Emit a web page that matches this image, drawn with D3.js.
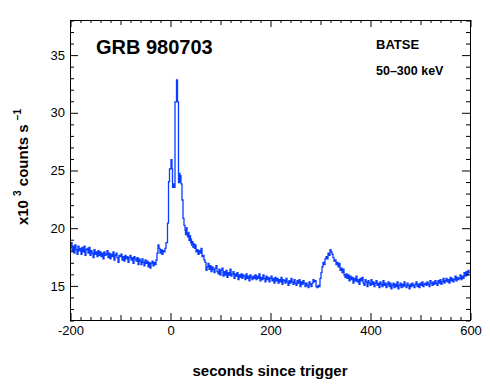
<!DOCTYPE html>
<html>
<head>
<meta charset="utf-8">
<script src="https://cdn.jsdelivr.net/npm/d3@7"></script>
<style>
  html, body { margin: 0; padding: 0; background: #fff; }
  svg { display: block; }
  text { font-family: "Liberation Sans", Arial, Helvetica, sans-serif; fill: #000; }
</style>
</head>
<body>
<svg id="chart" width="490" height="390"></svg>
<script>
// ---- data (x10^3 counts/s, BATSE 50-300 keV, GRB 980703) ----
const binWidth = 2;               // seconds, background segments
const preStart = -200;            // first pre-burst bin start
const preRates = [
  18.3, 18.7, 18.0, 18.4, 17.8, 18.5, 18.1, 17.7, 18.4, 18.0,
  18.2, 17.7, 18.3, 17.9, 18.4, 17.6, 18.1, 18.2, 17.8, 18.3,
  17.6, 18.0, 17.8, 17.4, 18.1, 17.7, 17.9, 17.5, 18.0, 17.6,
  17.9, 17.5, 17.8, 17.3, 17.9, 17.6, 17.7, 18.0, 17.4, 17.8,
  17.3, 17.7, 17.5, 17.9, 17.2, 17.6, 17.8, 17.4, 17.0, 17.6,
  17.5, 17.7, 17.2, 17.5, 17.1, 17.6, 17.3, 17.5, 17.0, 17.4,
  17.6, 17.2, 17.4, 16.9, 17.5, 17.3, 17.1, 17.4, 16.8, 17.3,
  17.1, 16.8, 17.3, 17.0, 16.7, 17.2, 16.9, 17.1, 16.6, 17.0,
  16.5, 16.9, 17.1, 16.7, 17.0, 16.8, 17.2, 17.8, 18.5, 18.2,
  17.8, 18.1, 17.7, 18.0, 17.9, 18.2
];
const burstTimes = [-8, -5, -3, -1, 2, 4, 5, 7, 8, 10, 13, 15, 17, 19, 20, 21, 22, 24, 26, 28,
                    30, 31, 33, 34, 35, 37, 38, 39, 41, 42, 43, 45, 46, 47, 49, 50];
const burstRates = [18.7, 20.4, 24.0, 25.1, 25.9, 25.1, 23.5, 23.8, 23.5, 30.9, 32.8, 30.9, 23.9, 24.7, 24.0, 24.5, 23.8, 22.4, 20.8, 20.2,
                    19.8, 19.4, 20.0, 19.5, 19.2, 19.6, 18.9, 19.3, 18.7, 19.0, 18.5, 18.8, 18.3, 18.6, 18.2, 18.5];
const postStart = 52;
const postRates = [
  17.9, 18.1, 17.7, 18.0, 17.8, 18.2, 17.5, 17.6, 17.2, 17.0,
  16.3, 16.6, 16.9, 16.4, 16.7, 16.2, 16.6, 16.4, 16.1, 16.5,
  16.7, 16.2, 16.0, 16.4, 15.9, 16.3, 16.5, 15.8, 16.2, 15.9,
  16.3, 15.7, 16.1, 15.9, 16.4, 15.8, 16.0, 16.2, 15.6, 16.0,
  15.8, 16.1, 15.5, 15.9, 15.7, 16.0, 15.6, 15.9, 15.8, 15.5,
  16.0, 15.6, 15.8, 15.4, 15.9, 15.7, 15.5, 15.8, 15.6, 15.9,
  15.5, 15.8, 15.6, 16.0, 15.4, 15.7, 15.5, 15.9, 15.6, 15.3,
  15.8, 15.5, 15.7, 15.3, 15.6, 15.8, 15.4, 15.6, 15.2, 15.7,
  15.4, 15.6, 15.2, 15.5, 15.3, 15.7, 15.1, 15.5, 15.4, 15.2,
  15.6, 15.3, 15.0, 15.4, 15.2, 15.6, 15.3, 15.1, 15.5, 15.2,
  15.0, 15.4, 15.2, 15.5, 14.9, 15.3, 15.1, 15.4, 15.2, 14.9,
  15.2, 15.0, 14.8, 15.3, 15.1, 14.9, 15.2, 15.5, 15.3, 15.4,
  14.9, 14.8, 15.0, 14.9, 15.6, 16.1, 16.6, 17.0, 16.8, 17.3,
  17.5, 17.3, 17.8, 17.6, 18.1, 17.9, 17.7, 17.4, 17.1, 17.2,
  16.8, 17.0, 16.6, 16.9, 16.3, 16.5, 16.1, 16.4, 15.9, 15.7,
  16.0, 15.6, 15.9, 15.4, 15.8, 15.5, 15.7, 15.2, 15.6, 15.4,
  15.8, 15.3, 15.5, 15.1, 15.6, 15.4, 15.7, 15.2, 15.0, 15.5,
  15.3, 14.9, 15.4, 15.2, 15.0, 15.5, 15.1, 15.3, 14.9, 15.2,
  15.4, 15.0, 15.2, 14.8, 15.3, 15.1, 14.9, 15.4, 15.0, 15.2,
  14.8, 15.1, 15.3, 14.9, 15.2, 14.7, 15.0, 15.2, 14.8, 15.1,
  14.9, 15.3, 14.7, 15.0, 15.2, 14.8, 15.1, 14.9, 15.3, 15.0,
  14.8, 15.2, 15.0, 14.7, 15.1, 14.9, 15.2, 15.0, 14.8, 15.1,
  15.3, 14.9, 15.1, 14.8, 15.2, 15.0, 15.3, 14.9, 15.1, 15.2,
  15.0, 15.3, 15.1, 14.9, 15.4, 15.2, 15.0, 15.3, 15.1, 15.4,
  15.2, 15.0, 15.4, 15.2, 15.5, 15.1, 15.3, 15.6, 15.2, 15.4,
  15.6, 15.3, 15.5, 15.2, 15.7, 15.4, 15.6, 15.3, 15.5, 15.8,
  15.4, 15.7, 15.5, 15.6, 15.9, 15.5, 15.8, 15.6, 16.1, 15.8,
  16.2, 15.9, 16.3, 16.1
];
const xDomain = [-200, 600];
const yDomain = [12, 38];
const xTickLabels = [-200, 0, 200, 400, 600];
const yTickLabels = [15, 20, 25, 30, 35];

// ---- assemble step series ----
const series = [];
preRates.forEach((v, i) => series.push({ t: preStart + i * binWidth, v }));
burstTimes.forEach((t, i) => series.push({ t, v: burstRates[i] }));
postRates.forEach((v, i) => series.push({ t: postStart + i * binWidth, v }));
series.push({ t: xDomain[1], v: postRates[postRates.length - 1] });

// ---- layout ----
const L = 70, R = 470, T = 20, B = 320;
const svg = d3.select("#chart");
const x = d3.scaleLinear().domain(xDomain).range([L, R]);
const y = d3.scaleLinear().domain(yDomain).range([B, T]);

svg.append("defs").append("clipPath").attr("id", "clip")
  .append("rect").attr("x", L).attr("y", T).attr("width", R - L).attr("height", B - T);

// curve
const line = d3.line().x(d => x(d.t)).y(d => y(d.v)).curve(d3.curveStepAfter);
svg.append("path").datum(series)
  .attr("clip-path", "url(#clip)")
  .attr("fill", "none")
  .attr("stroke", "#0a3cff")
  .attr("stroke-width", 1.3)
  .attr("stroke-linejoin", "miter")
  .attr("d", line);

// ---- ticks ----
const xMinor = d3.range(-200, 601, 20).filter(d => d % 100 !== 0);
const xMid = d3.range(-100, 601, 200);
const yMinor = d3.range(12, 39, 1).filter(d => d % 5 !== 0);

function tickAxis(axisFn, scale, values, size, tx, ty) {
  const g = svg.append("g").attr("transform", `translate(${tx},${ty})`)
    .call(axisFn(scale).tickValues(values).tickSizeInner(size).tickSizeOuter(0).tickFormat(""));
  g.select(".domain").remove();
  g.selectAll("line").attr("stroke", "#000").attr("stroke-width", 1);
  return g;
}
// bottom (inward = upward)
tickAxis(d3.axisBottom, x, xMinor, -3, 0.5, B);
tickAxis(d3.axisBottom, x, xMid, -5, 0.5, B);
// top (inward = downward)
tickAxis(d3.axisTop, x, xMinor, -3, 0.5, T);
tickAxis(d3.axisTop, x, xMid, -5, 0.5, T);
tickAxis(d3.axisTop, x, xTickLabels, -7, 0.5, T);
// left/right minor
tickAxis(d3.axisLeft, y, yMinor, -4, L, 0.5);
tickAxis(d3.axisRight, y, yMinor, -4, R, 0.5);
tickAxis(d3.axisRight, y, yTickLabels, -8, R, 0.5);

// labelled axes
const xAxis = svg.append("g").attr("transform", `translate(0.5,${B})`)
  .call(d3.axisBottom(x).tickValues(xTickLabels).tickSizeInner(-7).tickSizeOuter(0)
    .tickPadding(6).tickFormat(d => String(d)));
xAxis.select(".domain").remove();
xAxis.selectAll("line").attr("stroke", "#000");
xAxis.selectAll("text").attr("font-size", 13).attr("font-family", "Liberation Sans, Arial, sans-serif").attr("fill", "#000");

const yAxis = svg.append("g").attr("transform", `translate(${L},0.5)`)
  .call(d3.axisLeft(y).tickValues(yTickLabels).tickSizeInner(-8).tickSizeOuter(0)
    .tickPadding(5).tickFormat(d => String(d)));
yAxis.select(".domain").remove();
yAxis.selectAll("line").attr("stroke", "#000");
yAxis.selectAll("text").attr("font-size", 13).attr("font-family", "Liberation Sans, Arial, sans-serif").attr("fill", "#000");

// frame
svg.append("rect").attr("x", L + 0.5).attr("y", T + 0.5)
  .attr("width", R - L).attr("height", B - T)
  .attr("fill", "none").attr("stroke", "#000").attr("stroke-width", 1);

// ---- texts ----
svg.append("text").attr("x", 96).attr("y", 54)
  .attr("font-size", 20).attr("font-weight", "bold").text("GRB 980703");
svg.append("text").attr("x", 376).attr("y", 49)
  .attr("font-size", 13).attr("font-weight", "bold").text("BATSE");
svg.append("text").attr("x", 376).attr("y", 75)
  .attr("font-size", 12.5).attr("font-weight", "bold").text("50–300 keV");

svg.append("text").attr("x", 270).attr("y", 376).attr("text-anchor", "middle")
  .attr("font-size", 15).attr("font-weight", "bold").text("seconds since trigger");

const yl = svg.append("text")
  .attr("transform", "translate(28,167) rotate(-90)")
  .attr("text-anchor", "middle").attr("font-size", 15).attr("font-weight", "bold");
yl.append("tspan").text("x10 ");
yl.append("tspan").attr("font-size", 10).attr("dy", -7).text("3");
yl.append("tspan").attr("dy", 7).text(" counts s ");
yl.append("tspan").attr("font-size", 10).attr("dy", -7).text("−1");
</script>
</body>
</html>
